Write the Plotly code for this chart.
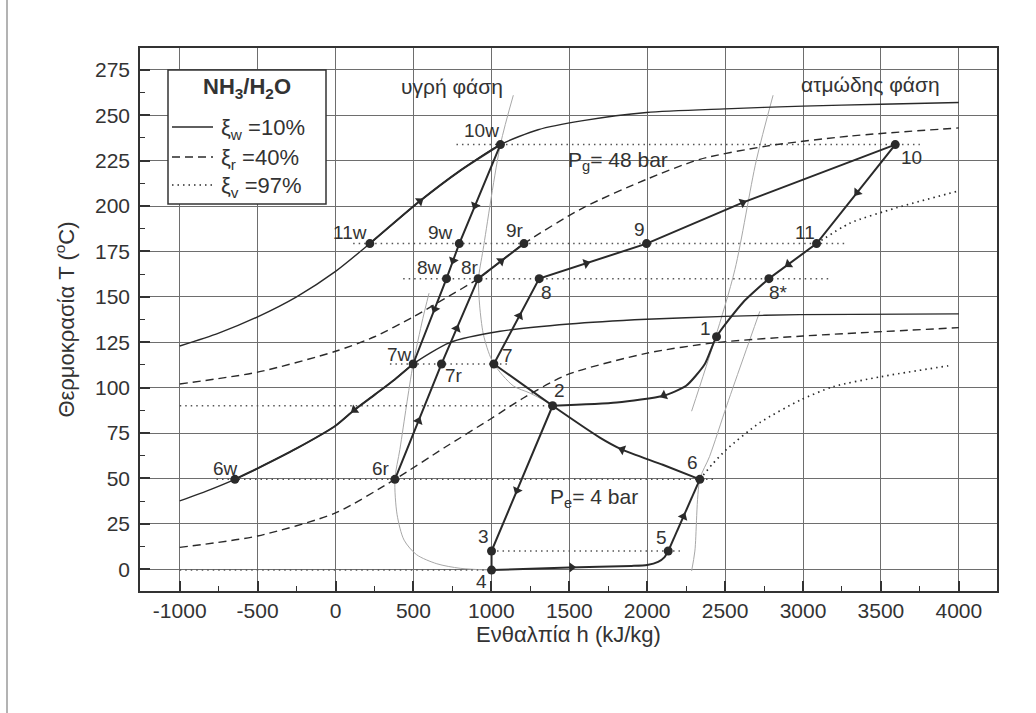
import math
import plotly.graph_objects as go

# ---------------- data ----------------
state_names = ["10w", "11w", "9w", "9r", "9", "11", "10", "8w", "8r", "8", "8*", "1",
               "7w", "7r", "7", "2", "6w", "6r", "6", "3", "5", "4"]
state_h = [1058, 220, 794, 1209, 1996, 3087, 3592, 712, 915, 1307, 2781, 2445,
           498, 680, 1016, 1393, -646, 381, 2338, 1001, 2135, 1001]
state_T = [233.8, 179.3, 179.3, 179.3, 179.3, 179.3, 233.8, 160, 160, 160, 160, 128,
           113, 113, 113, 90, 49.5, 49.5, 49.5, 10, 10, -0.5]

# isobars of constant concentration (48 bar upper, 4 bar lower)
iso_w_hi_h = [-1000, -750, -500, -250, 0, 220, 541, 800, 1058, 1300, 1588, 1996, 2500, 3000, 3500, 4000]
iso_w_hi_T = [122.9, 130, 139, 150, 164, 179.3, 202.7, 219.5, 233.8, 242, 247, 251.5, 253.5, 255, 256, 257]
iso_w_lo_h = [-1000, -800, -646, -503, -250, 0, 118, 250, 380, 498, 733, 1056, 1500, 1996, 2500, 2980, 4000]
iso_w_lo_T = [37.6, 44, 49.5, 55.4, 66.5, 79, 87.5, 96, 104.5, 113, 124.8, 131, 135, 137.6, 139.2, 140.2, 140.6]
iso_r_hi_h = [-1000, -500, 0, 250, 500, 700, 915, 1209, 1589, 1996, 2338, 2766, 3300, 4000]
iso_r_hi_T = [102, 108.5, 120, 128, 139, 149, 160, 179.3, 199, 214.7, 225.7, 233, 238.5, 243]
iso_r_lo_h = [-1000, -500, 0, 381, 700, 1000, 1200, 1483, 2000, 2445, 3000, 4000]
iso_r_lo_T = [12, 18.3, 31, 49.5, 67, 83, 94, 107, 119, 124.8, 128.4, 133]
iso_v_hi_h = [3087, 3300, 3600, 3986]
iso_v_hi_T = [179.3, 190.5, 199, 208]
iso_v_lo_h = [2338, 2420, 2510, 2723, 2980, 3194, 3500, 3932]
iso_v_lo_T = [49.5, 58, 66, 80.7, 93, 100.5, 106, 112]

# saturation (phase boundary) lines
liq_hi_h = [1141, 1058, 947, 918, 925, 947, 980, 1016, 1140, 1247, 1380]
liq_hi_T = [261, 233.8, 176, 160, 145, 130, 120, 113, 101, 97, 91]
liq_lo_h = [600, 560, 498, 455, 413, 381, 395, 440, 520, 650, 800, 1001]
liq_lo_T = [152, 138, 113, 90, 66, 49.5, 30, 16, 8, 3, 0.5, -0.5]
vap_hi_h = [2808, 2700, 2563, 2434, 2285]
vap_hi_T = [261, 225, 165, 126.6, 87]
vap_lo_h = [2723, 2620, 2510, 2400, 2338, 2306, 2285]
vap_lo_T = [142, 117, 90, 62, 49.5, 10, -1]

# dotted reference temperature levels
ref_T = [233.8, 179.3, 160, 113, 90, 49.5, 10, -0.5]
ref_h_start = [776, 113, 434, 349, -1000, -764, 1001, -1000]
ref_h_end = [3750, 3280, 3173, 1118, 1393, 2434, 2210, 1001]

# cycle paths (state names and intermediate read points)
seg_11w_10w = ["11w", (541, 202.7), (800, 219.5), "10w"]
seg_10w_7w = ["10w", "9w", "8w", "7w"]
seg_7w_6w = ["7w", (380, 104.5), (250, 96), (118, 87.5), (0, 79), (-250, 66.5), (-503, 55.4), "6w"]
seg_6r_8r = ["6r", "7r", "8r"]
seg_8r_9r = ["8r", "9r"]
seg_7_10 = ["7", "8", "9", (2616, 202), "10"]
seg_10_8s = ["10", "11", "8*"]
seg_8s_2 = ["8*", (2616, 147), "1", (2370, 113), (2250, 101), (2103, 95.5), (1804, 91.8), "2"]
seg_2_4 = ["2", "3", "4"]
seg_4_5 = ["4", (1500, 1), (1900, 1.8), (2000, 2.3), (2070, 4), (2110, 6.5), "5"]
seg_5_6 = ["5", "6"]
seg_6_7 = ["6", (2100, 57.5), (1836, 66), (1696, 72.5), "2", "7"]

x_ticks = list(range(-1000, 4001, 500))
y_ticks = list(range(0, 276, 25))

# ---------------- layout geometry ----------------
W, H = 1036, 713
ML, MR, MT, MB = 140, 39, 48, 122
X_RANGE = [-1255, 4245]
Y_RANGE = [-12, 287]
PW = W - ML - MR
PH = H - MT - MB
SX = PW / (X_RANGE[1] - X_RANGE[0])
SY = PH / (Y_RANGE[1] - Y_RANGE[0])

INK = "#2a2a2a"
TXT = "#333333"
FONT = "Liberation Sans, Arial, sans-serif"

S = {n: (h, t) for n, h, t in zip(state_names, state_h, state_T)}


def resolve(seg):
    return [S[p] if isinstance(p, str) else p for p in seg]


def to_px(h, t):
    return ((h - X_RANGE[0]) * SX, (t - Y_RANGE[0]) * SY)


def arrow_at(pts, frac):
    px = [to_px(*p) for p in pts]
    lens = [math.dist(px[i], px[i + 1]) for i in range(len(px) - 1)]
    target = frac * sum(lens)
    acc = 0
    for i, L in enumerate(lens):
        if acc + L >= target or i == len(lens) - 1:
            t = (target - acc) / L if L else 0
            x = px[i][0] + t * (px[i + 1][0] - px[i][0])
            y = px[i][1] + t * (px[i + 1][1] - px[i][1])
            ang = math.degrees(math.atan2(px[i + 1][0] - px[i][0], px[i + 1][1] - px[i][1]))
            return x / SX + X_RANGE[0], y / SY + Y_RANGE[0], ang
        acc += L


fig = go.Figure()

# phase boundary lines (light gray)
for hh, tt in [(liq_hi_h, liq_hi_T), (liq_lo_h, liq_lo_T), (vap_hi_h, vap_hi_T), (vap_lo_h, vap_lo_T)]:
    fig.add_trace(go.Scatter(x=hh, y=tt, mode="lines", showlegend=False, hoverinfo="skip",
                             line=dict(color="#a8a8a8", width=1, shape="spline", smoothing=0.8)))

# dotted reference temperature levels
for t, a, b in zip(ref_T, ref_h_start, ref_h_end):
    fig.add_trace(go.Scatter(x=[a, b], y=[t, t], mode="lines", showlegend=False, hoverinfo="skip",
                             line=dict(color="#555555", width=1.5, dash="1.5px,4px")))

# isobars
iso_style = [
    (iso_w_hi_h, iso_w_hi_T, "solid"), (iso_w_lo_h, iso_w_lo_T, "solid"),
    (iso_r_hi_h, iso_r_hi_T, "8px,5px"), (iso_r_lo_h, iso_r_lo_T, "8px,5px"),
    (iso_v_hi_h, iso_v_hi_T, "1.5px,4px"), (iso_v_lo_h, iso_v_lo_T, "1.5px,4px"),
]
for hh, tt, d in iso_style:
    fig.add_trace(go.Scatter(x=hh, y=tt, mode="lines", showlegend=False, hoverinfo="skip",
                             line=dict(color=INK, width=1.4 if d != "1.5px,4px" else 1.7,
                                       dash=d, shape="spline", smoothing=0.7)))

# cycle paths with arrows
cycle = [
    (seg_11w_10w, "spline", [0.4]),
    (seg_10w_7w, "linear", [0.28, 0.53, 0.75]),
    (seg_7w_6w, "spline", [0.35]),
    (seg_6r_8r, "linear", [0.29, 0.75]),
    (seg_8r_9r, "linear", [0.5]),
    (seg_7_10, "linear", [0.114, 0.306, 0.658]),
    (seg_10_8s, "linear", [0.33, 0.87]),
    (seg_8s_2, "spline", [0.59]),
    (seg_2_4, "linear", [0.52]),
    (seg_4_5, "spline", [0.44]),
    (seg_5_6, "linear", [0.48]),
    (seg_6_7, "spline", [0.35]),
]
ax, ay, aa = [], [], []
for seg, shp, arrows in cycle:
    pts = resolve(seg)
    fig.add_trace(go.Scatter(x=[p[0] for p in pts], y=[p[1] for p in pts], mode="lines",
                             showlegend=False, hoverinfo="skip",
                             line=dict(color=INK, width=2, shape=shp, smoothing=0.6)))
    for f in arrows:
        x, y, a = arrow_at(pts, f)
        ax.append(x); ay.append(y); aa.append(a)

fig.add_trace(go.Scatter(x=ax, y=ay, mode="markers", showlegend=False, hoverinfo="skip",
                         marker=dict(symbol="triangle-up", size=9, angle=aa, color=INK,
                                     line=dict(width=0))))

# state points
fig.add_trace(go.Scatter(x=state_h, y=state_T, mode="markers", showlegend=False,
                         text=state_names, hovertemplate="%{text}: h=%{x}, T=%{y}<extra></extra>",
                         marker=dict(size=9, color=INK)))

# state labels (pixel offsets from the point)
label_off = {
    "10w": (-19, -14), "11w": (-20, -11), "9w": (-19, -11), "9r": (-9, -13), "9": (-7, -14),
    "11": (-12, -11), "10": (16, 13), "8w": (-17, -11), "8r": (-8, -11), "8": (7, 14),
    "8*": (10, 14), "1": (-11, -8), "7": (14, -8), "7w": (-14, -9), "7r": (12, 12),
    "2": (7, -15), "6": (-7, -17), "5": (-7, -14), "6w": (-9, -11), "6r": (-14, -11),
    "3": (-8, -15), "4": (-10, 11),
}
annotations = []
for n, h, t in zip(state_names, state_h, state_T):
    dx, dy = label_off[n]
    annotations.append(dict(x=h, y=t, xref="x", yref="y", text=n, showarrow=False,
                            xanchor="center", yanchor="middle",
                            xshift=dx, yshift=-dy, font=dict(size=19, color=TXT)))

annotations += [
    dict(x=746, y=265.7, xref="x", yref="y", text="υγρή φάση", showarrow=False,
         xanchor="center", yanchor="middle", font=dict(size=21, color=TXT)),
    dict(x=3436, y=266.8, xref="x", yref="y", text="ατμώδης φάση", showarrow=False,
         xanchor="center", yanchor="middle", font=dict(size=21, color=TXT)),
    dict(x=1482, y=224.6, xref="x", yref="y", text="P<sub>g</sub>= 48 bar", showarrow=False,
         xanchor="left", yanchor="middle", font=dict(size=21, color=TXT)),
    dict(x=1365, y=39.4, xref="x", yref="y", text="P<sub>e</sub>= 4 bar", showarrow=False,
         xanchor="left", yanchor="middle", font=dict(size=21, color=TXT)),
]


def pxp(px, py):
    return (px - ML) / PW, (H - MB - py) / PH


# custom legend box
shapes = []
x0, y0 = pxp(168, 70)
x1, y1 = pxp(326, 204)
shapes.append(dict(type="rect", xref="paper", yref="paper", x0=x0, y0=y1, x1=x1, y1=y0,
                   line=dict(color="#333333", width=1.5), fillcolor="white", layer="above"))
tx, ty = pxp(247, 88)
annotations.append(dict(x=tx, y=ty, xref="paper", yref="paper", showarrow=False,
                        xanchor="center", yanchor="middle",
                        text="<b>NH<sub>3</sub>/H<sub>2</sub>O</b>", font=dict(size=22, color=TXT)))
leg_items = [("ξ<sub>w</sub> =10%", "solid", 127), ("ξ<sub>r</sub> =40%", "8px,5px", 157),
             ("ξ<sub>v</sub> =97%", "1.5px,4px", 185)]
for txt, d, py in leg_items:
    lx0, ly = pxp(172, py)
    lx1, _ = pxp(213, py)
    shapes.append(dict(type="line", xref="paper", yref="paper", x0=lx0, x1=lx1, y0=ly, y1=ly,
                       line=dict(color=INK, width=1.4, dash=d), layer="above"))
    tx, ty = pxp(219, py + 2)
    annotations.append(dict(x=tx, y=ty, xref="paper", yref="paper", showarrow=False,
                            xanchor="left", yanchor="middle",
                            text=txt, font=dict(size=22, color=TXT)))

# scan edge line on the left
ex, _ = pxp(7, 0)
shapes.append(dict(type="line", xref="paper", yref="paper", x0=ex, x1=ex, y0=-0.3, y1=1.2,
                   line=dict(color="#9a9a9a", width=1.5)))

axis_common = dict(showline=True, linecolor="#333333", linewidth=1.5, mirror=True,
                   showgrid=True, gridcolor="#6e6e6e", gridwidth=1, zeroline=False,
                   ticks="inside", ticklen=10, tickwidth=1.5, tickcolor="#333333",
                   tickfont=dict(size=21, color=TXT, family=FONT))

fig.update_layout(
    width=W, height=H,
    margin=dict(l=ML, r=MR, t=MT, b=MB),
    paper_bgcolor="white", plot_bgcolor="white",
    font=dict(family=FONT, color=TXT),
    showlegend=False,
    xaxis=dict(range=X_RANGE, tickvals=x_ticks, ticktext=[str(v) for v in x_ticks],
               title=dict(text="Ενθαλπία h (kJ/kg)", font=dict(size=22, color=TXT), standoff=2),
               minor=dict(ticks="inside", ticklen=5, tickwidth=1.2, dtick=250, tick0=0,
                          tickcolor="#333333", showgrid=False),
               ticklabelstandoff=0, **axis_common),
    yaxis=dict(range=Y_RANGE, tickvals=y_ticks, ticktext=[str(v) for v in y_ticks],
               title=dict(text="Θερμοκρασία T (<sup>o</sup>C)", font=dict(size=22, color=TXT), standoff=14),
               minor=dict(ticks="inside", ticklen=5, tickwidth=1.2, dtick=12.5, tick0=0,
                          tickcolor="#333333", showgrid=False),
               ticklabelstandoff=4, **axis_common),
    annotations=annotations,
    shapes=shapes,
)

fig.write_html("out.html")
